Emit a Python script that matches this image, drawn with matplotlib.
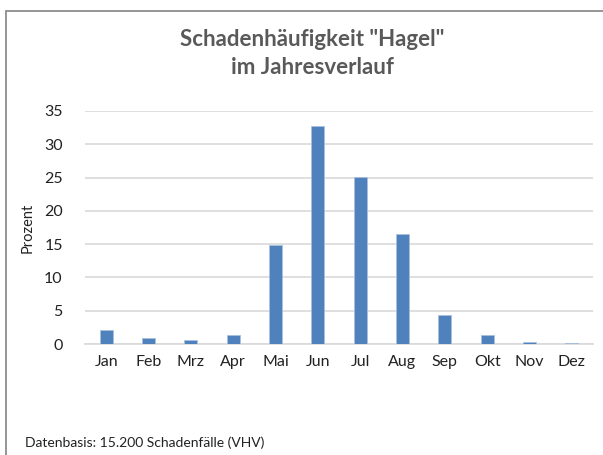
import matplotlib.pyplot as plt
from matplotlib.patches import Rectangle

# Monthly share of hail claims (percent)
months = ["Jan", "Feb", "Mrz", "Apr", "Mai", "Jun", "Jul", "Aug", "Sep", "Okt", "Nov", "Dez"]
values = [2.1, 0.9, 0.6, 1.3, 14.8, 32.7, 25.1, 16.5, 4.4, 1.3, 0.3, 0.15]
yticks = [0, 5, 10, 15, 20, 25, 30, 35]

plt.rcParams["font.family"] = ["Lato", "DejaVu Sans"]

fig = plt.figure(figsize=(6.03, 4.55), dpi=100)
ax = fig.add_axes([85 / 603, 1 - 344 / 455, 508 / 603, 233 / 455])

x = range(len(months))
ax.bar(x, values, width=0.31, color="#4f81bd", edgecolor="#a9c0de", linewidth=0.6, zorder=3)

ax.set_xlim(-0.5, len(months) - 0.5)
ax.set_ylim(0, 35)
ax.set_yticks(yticks)
ax.set_xticks(list(x))
ax.set_xticklabels(months)
ax.yaxis.grid(True, color="#d9d9d9", linewidth=1.2, zorder=0)
ax.tick_params(axis="both", length=0, labelsize=11.5, colors="#222222")
ax.tick_params(axis="y", pad=16)
ax.tick_params(axis="x", pad=8)
for s in ["top", "right", "left"]:
    ax.spines[s].set_visible(False)
ax.spines["bottom"].set_color("#d9d9d9")
ax.spines["bottom"].set_linewidth(1.2)

ax.set_ylabel("Prozent", fontsize=10.5, color="#222222")
ax.yaxis.set_label_coords(-50 / 508, 0.5)

fig.text(312 / 603, 1 - 53.5 / 455, 'Schadenhäufigkeit "Hagel"\nim Jahresverlauf',
         ha="center", va="center", fontsize=16, fontweight="bold",
         color="#595959", linespacing=1.4)

fig.text(25 / 603, 1 - 443 / 455, "Datenbasis: 15.200 Schadenfälle (VHV)",
         ha="left", va="center", fontsize=10, color="#222222")

# chart frame (right and bottom edges lie outside the picture)
fig.patches.append(Rectangle((6 / 603, -0.1), 1.2, 1 - 11 / 455 + 0.1,
                             transform=fig.transFigure, fill=False,
                             edgecolor="#8c8c8c", linewidth=1.3))

fig.savefig("out.png", dpi=100)
